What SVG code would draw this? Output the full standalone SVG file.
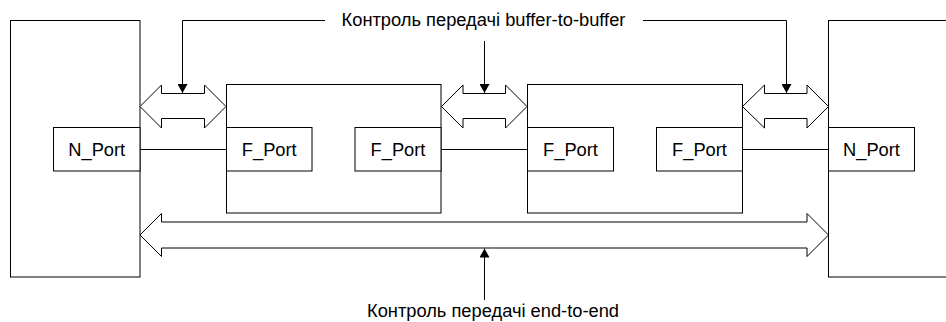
<svg xmlns="http://www.w3.org/2000/svg" width="946" height="322" viewBox="0 0 946 322">
<style>
.box{fill:#fff;stroke:#000;stroke-width:1}
.port{fill:#fff;stroke:#000;stroke-width:1}
.lbl{font-family:"Liberation Sans",Arial,sans-serif;font-size:18.3px;fill:#000;text-anchor:middle}
.blk{fill:#fff;stroke:#000;stroke-width:1}
.ln{fill:none;stroke:#000;stroke-width:1}
</style>
<defs>
<marker id="ah" markerWidth="10" markerHeight="10" refX="9" refY="5" orient="auto" markerUnits="userSpaceOnUse">
<path d="M0,0 L9,5 L0,10 Z" fill="#000"/>
</marker>
</defs>
<rect width="946" height="322" fill="#fff"/>
<g id="node-left">
<rect class="box" x="10.5" y="20.5" width="129.5" height="256.5"/>
<rect class="port" x="53.5" y="127.5" width="86.5" height="43.5"/>
<text class="lbl" x="96.75" y="155.5">N_Port</text>
</g>
<g id="node-right">
<rect class="box" x="828.5" y="20.5" width="130" height="256.5"/>
<rect class="port" x="828.5" y="127.5" width="86" height="43.5"/>
<text class="lbl" x="871.5" y="155.5">N_Port</text>
</g>
<g id="node-switch1">
<rect class="box" x="226.5" y="84.5" width="214.5" height="128.5"/>
<rect class="port" x="226.5" y="127.5" width="85.5" height="43.5"/>
<text class="lbl" x="269.25" y="155.5">F_Port</text>
<rect class="port" x="355" y="127.5" width="86" height="43.5"/>
<text class="lbl" x="398" y="155.5">F_Port</text>
</g>
<g id="node-switch2">
<rect class="box" x="527.5" y="84.5" width="215" height="128.5"/>
<rect class="port" x="527.5" y="127.5" width="86" height="43.5"/>
<text class="lbl" x="570.5" y="155.5">F_Port</text>
<rect class="port" x="656.5" y="127.5" width="86" height="43.5"/>
<text class="lbl" x="699.5" y="155.5">F_Port</text>
</g>
<g id="labels">
<text class="lbl" x="483.5" y="26">Контроль передачі buffer-to-buffer</text>
<text class="lbl" x="493" y="317">Контроль передачі end-to-end</text>
</g>
<g id="connectors">
<line class="ln" x1="140" y1="149.5" x2="226.5" y2="149.5"/>
<line class="ln" x1="441" y1="149.5" x2="527.5" y2="149.5"/>
<line class="ln" x1="742.5" y1="149.5" x2="828.5" y2="149.5"/>
<polygon class="blk" points="140,106.5 161.5,85 161.5,93.5 204.5,93.5 204.5,85 226,106.5 204.5,128 204.5,118.5 161.5,118.5 161.5,128"/>
<polygon class="blk" points="441.5,106.5 463,85 463,93.5 505.5,93.5 505.5,85 527,106.5 505.5,128 505.5,118.5 463,118.5 463,128"/>
<polygon class="blk" points="742.5,106.5 764.5,85 764.5,93.5 807,93.5 807,85 828.5,106.5 807,128 807,118.5 764.5,118.5 764.5,128"/>
<polygon class="blk" points="140,235 161.5,213.5 161.5,222 807,222 807,213.5 828.5,235 807,256.5 807,248 161.5,248 161.5,256.5"/>
<polyline class="ln" points="325,20.5 182.5,20.5 182.5,93" marker-end="url(#ah)"/>
<line class="ln" x1="484.5" y1="41" x2="484.5" y2="93" marker-end="url(#ah)"/>
<polyline class="ln" points="643,20.5 786.5,20.5 786.5,93" marker-end="url(#ah)"/>
<line class="ln" x1="484.5" y1="300" x2="484.5" y2="248.5" marker-end="url(#ah)"/>
</g>
</svg>
